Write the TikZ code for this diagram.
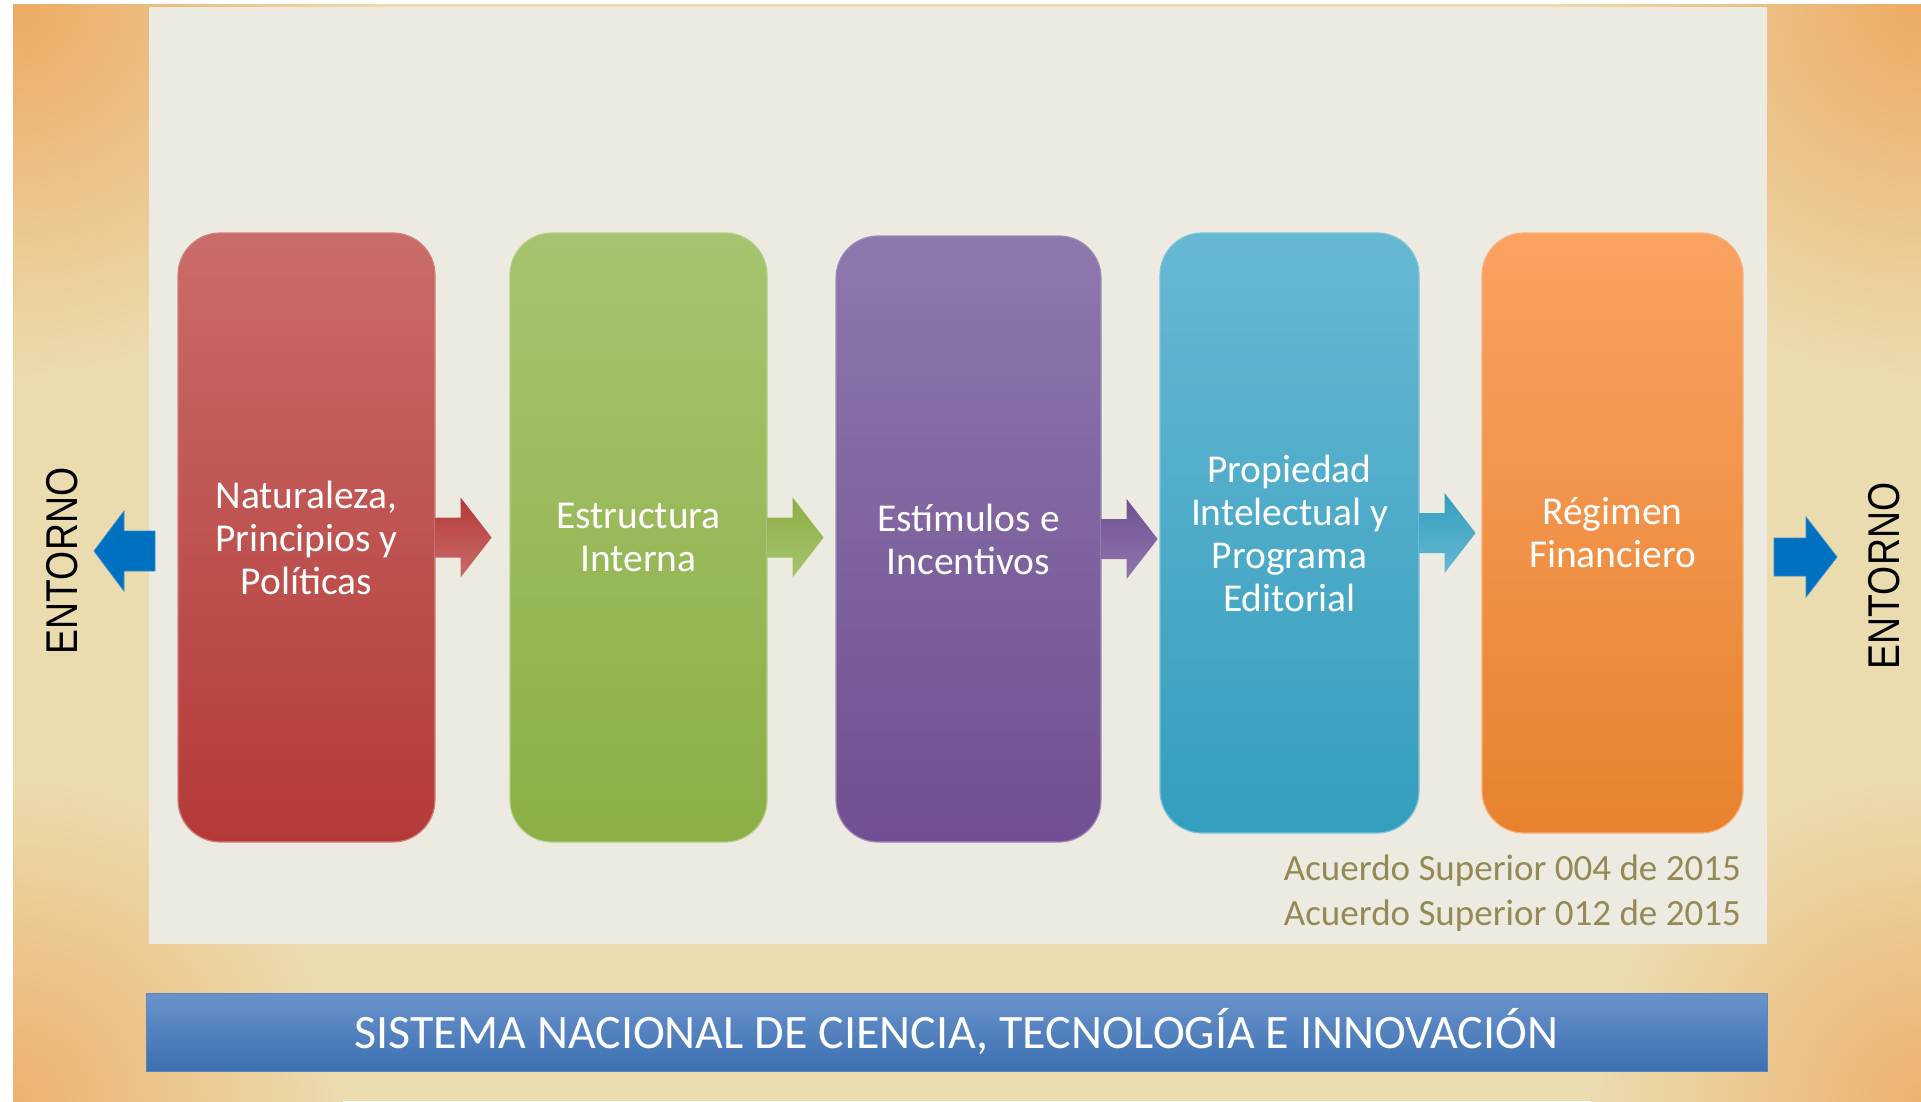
\documentclass[tikz,border=0pt]{standalone}
\usepackage{fontspec}
\setmainfont{Carlito}
\newfontfamily\entfont[FakeStretch=0.84]{Liberation Sans}
\usetikzlibrary{calc}

\definecolor{sandin}{HTML}{EBDCB0}
\definecolor{sandout}{HTML}{EDAA62}
\definecolor{panelbg}{HTML}{EDEBE1}
\definecolor{redtop}{HTML}{C96C69}
\definecolor{redbot}{HTML}{B43A38}
\definecolor{greentop}{HTML}{A6C46F}
\definecolor{greenbot}{HTML}{8CAF45}
\definecolor{purpletop}{HTML}{8D78AE}
\definecolor{purplebot}{HTML}{714F92}
\definecolor{bluetop}{HTML}{67B8D2}
\definecolor{bluebot}{HTML}{339EBE}
\definecolor{orangetop}{HTML}{F9A262}
\definecolor{orangebot}{HTML}{E8822D}
\definecolor{entblue}{HTML}{0070C0}
\definecolor{acuerdo}{HTML}{948A55}
\definecolor{bannertop}{HTML}{6A93CB}
\definecolor{bannerbot}{HTML}{3C70B3}

\begin{document}
\begin{tikzpicture}[x=1pt,y=-1pt,
    stage/.style={rounded corners=42pt, line width=1.2pt, text=white, align=center,
      font=\fontsize{39.5}{43}\selectfont},
    entorno/.style={rotate=90, font=\entfont\fontsize{44.5}{50}\selectfont},
    acuerdotext/.style={text=acuerdo, anchor=base east, inner sep=0pt,
      font=\fontsize{37}{45}\selectfont},
    outarrow/.style={fill=entblue, draw=entblue!80!white, line width=0.8pt},
    glow/.style={inner color=sandout, outer color=sandin}]

    \useasboundingbox (0,0) rectangle (1921,1101);
    \fill[white] (0,0) rectangle (1921,1101);

    % sand background, darker towards the corners
    \begin{scope}
      \clip (13,4) rectangle (1921,1101);
      \fill[sandin] (13,4) rectangle (1921,1101);
      \shade[glow] (13,4) circle (380);
      \shade[glow] (1921,4) circle (380);
      \shade[glow, inner color=sandout!85!sandin] (13,1101) circle (330);
      \shade[glow, inner color=sandout!85!sandin] (1921,1101) circle (330);
    \end{scope}
    \fill[panelbg] (149,7) rectangle (1767,944);

    % stages
    \node[stage, top color=redtop, bottom color=redbot, draw=redtop!85!white,
      minimum width=257, minimum height=609] (b1) at (306.5,537.5) {Naturaleza,\\Principios y\\Políticas};
    \node[stage, top color=greentop, bottom color=greenbot, draw=greentop!85!white,
      minimum width=257, minimum height=609] (b2) at (638.5,537.5) {Estructura\\Interna};
    \node[stage, top color=purpletop, bottom color=purplebot, draw=purpletop!85!white,
      minimum width=265, minimum height=606] (b3) at (968.5,539) {Estímulos e\\Incentivos};
    \node[stage, top color=bluetop, bottom color=bluebot, draw=bluetop!85!white,
      minimum width=259, minimum height=600] (b4) at (1289.5,533) {Propiedad\\Intelectual y\\Programa\\Editorial};
    \node[stage, top color=orangetop, bottom color=orangebot, draw=orangetop!85!white,
      minimum width=261, minimum height=600] (b5) at (1612.5,533) {Régimen\\Financiero};

    % block arrows between stages
    \foreach \s/\c in {b1/red, b2/green, b3/purple, b4/blue}{
      \shade[top color=\c bot, bottom color=\c top]
        (\s.east) ++(0,-20) -- ++(25,0) -- ++(0,-20) -- ++(31,40)
        -- ++(-31,40) -- ++(0,-20) -- ++(-25,0) -- cycle;
    }

    % entorno
    \node[entorno] (entl) at (62,561) {ENTORNO};
    \node[entorno] (entr) at (1884,576) {ENTORNO};
    \draw[outarrow] (155,531) -- (124,531) -- (124,511) -- (94,551) -- (124,591) -- (124,571) -- (155,571) -- cycle;
    \draw[outarrow] (1774,538) -- (1806,538) -- (1806,517) -- (1837,557) -- (1806,597) -- (1806,576) -- (1774,576) -- cycle;

    \node[acuerdotext] (a1) at (1741,880) {Acuerdo Superior 004 de 2015};
    \node[acuerdotext] (a2) at (1741,925) {Acuerdo Superior 012 de 2015};

    \node[top color=bannertop, bottom color=bannerbot, draw=bannertop!90!black, line width=0.8pt,
      minimum width=1621, minimum height=78, text=white, font=\fontsize{48}{55}\selectfont]
      (sncti) at (956.5,1032) {SISTEMA NACIONAL DE CIENCIA, TECNOLOGÍA E INNOVACIÓN};

\end{tikzpicture}
\end{document}
